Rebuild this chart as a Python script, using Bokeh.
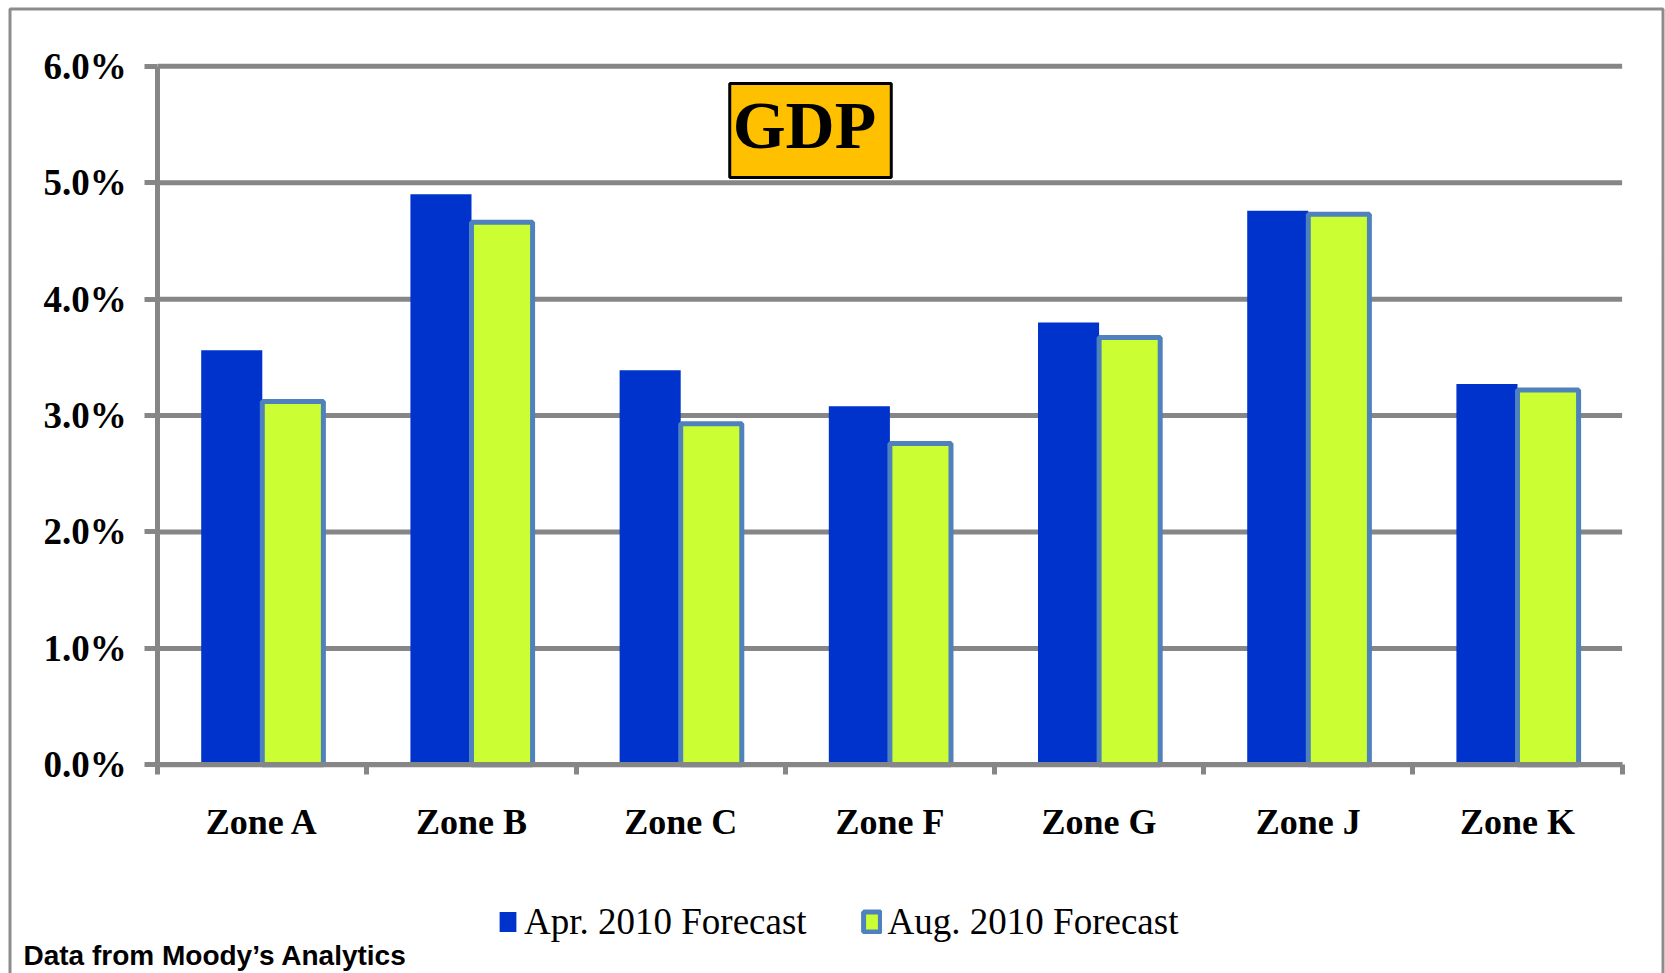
from bokeh.plotting import figure
from bokeh.models import (FixedTicker, PrintfTickFormatter, Legend, LegendItem,
                          Label, Range1d, ColumnDataSource, BoxAnnotation)
from bokeh.embed import file_html
from bokeh.resources import INLINE

# ---- data ----
zones = ["Zone A", "Zone B", "Zone C", "Zone F", "Zone G", "Zone J", "Zone K"]
apr_2010 = [3.56, 4.90, 3.39, 3.08, 3.80, 4.76, 3.27]
aug_2010 = [3.12, 4.66, 2.93, 2.76, 3.67, 4.73, 3.22]
y_ticks = [0, 1, 2, 3, 4, 5, 6]
series_names = ["Apr. 2010 Forecast", "Aug. 2010 Forecast"]
title_text = "GDP"
source_note = "Data from Moody\u2019s Analytics"

# ---- styling ----
BLUE = "#0033CC"
LIME = "#CCFF33"
EDGE = "#4F81BD"
GRID = "#868686"
FRAME = "#8C8C8C"
SERIF = "Liberation Serif"
SANS = "Liberation Sans"

# ---- pixel layout of the canvas (canvas px, origin top-left) ----
W, H = 1665, 973
AX_L, AX_R = 157.2, 1621.6      # x = 0 and x = n
AX_B, AX_T = 764.3, 65.8        # y = 0 and y = top tick

n = len(zones)
ppx = (AX_R - AX_L) / n
ppy = (AX_B - AX_T) / (y_ticks[-1] - y_ticks[0])


def dx(cx):
    return (cx - AX_L) / ppx


def dy(cy):
    return y_ticks[0] + (AX_B - cy) / ppy


bar_w = 0.292
centers = [i + 0.5 for i in range(n)]
src = ColumnDataSource(dict(
    apr_x=[c - bar_w / 2 for c in centers],
    aug_x=[c + bar_w / 2 for c in centers],
    apr=apr_2010,
    aug=aug_2010,
))
grid_src = ColumnDataSource(dict(y=y_ticks, x0=[0] * len(y_ticks),
                                 x1=[n] * len(y_ticks)))

p = figure(width=W, height=H,
           x_range=Range1d(dx(0), dx(W)), y_range=Range1d(dy(H), dy(0)),
           output_backend="svg", toolbar_location=None,
           min_border_left=0, min_border_right=0,
           min_border_top=0, min_border_bottom=0)
p.outline_line_color = None
p.background_fill_color = "white"
p.border_fill_color = "white"

# outer chart frame (bottom edge runs off the picture)
p.add_layout(BoxAnnotation(left=dx(9.5), right=dx(1662.5), top=dy(8.5),
                           bottom=dy(H + 20), fill_color=None, fill_alpha=0,
                           line_color=FRAME, line_alpha=1.0, line_width=3,
                           level="underlay"))

# horizontal gridlines, spanning the category axis only
p.xgrid.visible = False
p.ygrid.visible = False
p.segment(x0="x0", x1="x1", y0="y", y1="y", source=grid_src,
          line_color=GRID, line_width=5, level="underlay")

# bars
r1 = p.vbar(x="apr_x", top="apr", width=bar_w, bottom=0, source=src,
            fill_color=BLUE, line_color=None)
r2 = p.vbar(x="aug_x", top="aug", width=bar_w, bottom=0, source=src,
            fill_color=LIME, line_color=EDGE, line_width=5)

# y axis (fixed at x = 0)
ya = p.yaxis[0]
ya.fixed_location = 0
ya.bounds = (y_ticks[0], y_ticks[-1])
ya.ticker = FixedTicker(ticks=y_ticks, minor_ticks=[])
ya.formatter = PrintfTickFormatter(format="%.1f%%")
ya.axis_line_color = GRID
ya.axis_line_width = 5
ya.major_tick_line_color = GRID
ya.major_tick_line_width = 5
ya.major_tick_out = 13
ya.major_tick_in = 0
ya.minor_tick_line_color = None
ya.major_label_standoff = 18
ya.major_label_text_font = SERIF
ya.major_label_text_font_style = "bold"
ya.major_label_text_font_size = "37px"
ya.major_label_text_color = "black"

# x axis (fixed at y = 0)
xa = p.xaxis[0]
xa.fixed_location = 0
xa.bounds = (0, n)
xa.ticker = FixedTicker(ticks=centers, minor_ticks=list(range(n + 1)))
xa.major_label_overrides = {c: z for c, z in zip(centers, zones)}
xa.axis_line_color = GRID
xa.axis_line_width = 5
xa.major_tick_line_color = None
xa.major_tick_out = 0
xa.major_tick_in = 0
xa.minor_tick_line_color = GRID
xa.minor_tick_line_width = 5
xa.minor_tick_out = 10
xa.minor_tick_in = 0
xa.major_label_standoff = 27
xa.major_label_text_font = SERIF
xa.major_label_text_font_style = "bold"
xa.major_label_text_font_size = "36px"
xa.major_label_text_color = "black"

# legend
legend = Legend(items=[LegendItem(label=series_names[0], renderers=[r1]),
                       LegendItem(label=series_names[1], renderers=[r2])],
                orientation="horizontal", location=(497, 30),
                glyph_width=21, glyph_height=25, label_standoff=6, spacing=54,
                label_text_font=SERIF, label_text_font_size="37px",
                label_text_color="black",
                border_line_color=None, background_fill_alpha=0,
                padding=0, margin=0)
p.add_layout(legend)

# title box
p.add_layout(Label(x=dx(810), y=dy(130), text=title_text, text_align="center",
                   text_baseline="middle", text_font=SERIF,
                   text_font_style="bold", text_font_size="68px",
                   text_color="black",
                   background_fill_color="#FFC000",
                   border_line_color="black", border_line_width=3,
                   padding=(3, 15, 3, 15)))

# source note
p.add_layout(Label(x=dx(23), y=dy(955), text=source_note, text_align="left",
                   text_baseline="alphabetic", text_font=SANS,
                   text_font_style="bold", text_font_size="28px",
                   text_color="black"))

open("out.html", "w").write(file_html(p, INLINE))
